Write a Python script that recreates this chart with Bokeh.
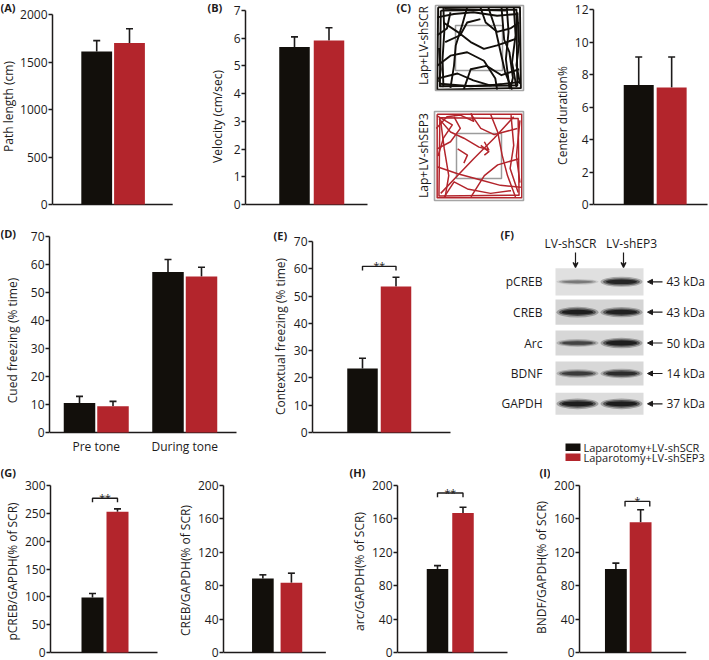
from math import pi
from bokeh.plotting import figure
from bokeh.layouts import row, column
from bokeh.models import (Range1d, FixedTicker, Label, Whisker, TeeHead, ColumnDataSource,
                          Arrow, VeeHead, NormalHead)
from bokeh.core.properties import value
from bokeh.embed import file_html
from bokeh.resources import INLINE

# ------------------------------------------------------------------ data
groups = ["Laparotomy+LV-shSCR", "Laparotomy+LV-shSEP3"]
path_length = [1610, 1700]
path_length_err = [115, 150]
velocity = [5.68, 5.92]
velocity_err = [0.37, 0.46]
center_duration = [7.35, 7.2]
center_duration_err = [1.73, 1.88]
cued_phases = ["Pre tone", "During tone"]
cued_scr = [10.5, 57.3]
cued_scr_err = [2.4, 4.5]
cued_sep3 = [9.4, 55.7]
cued_sep3_err = [1.7, 3.3]
contextual = [23.5, 53.5]
contextual_err = [3.7, 3.4]
pcreb = [99, 253]
pcreb_err = [7, 5]
creb = [88.5, 83.6]
creb_err = [4.5, 11.4]
arc = [100, 167]
arc_err = [4, 7]
bdnf = [100, 156]
bdnf_err = [7, 15]
# significance brackets: (label, bracket level, leg end)
sig_e = ("**", 60.9, 59.4)
sig_g = ("**", 277, 270)
sig_h = ("**", 191, 186)
sig_i = ("*", 181, 175)

blot_lanes = ["LV-shSCR", "LV-shEP3"]
blot_proteins = ["pCREB", "CREB", "Arc", "BDNF", "GAPDH"]
blot_kda = ["43 kDa", "43 kDa", "50 kDa", "14 kDa", "37 kDa"]
band_scr = [0.35, 0.95, 0.62, 0.68, 0.97]
band_sep3 = [0.88, 0.92, 0.95, 0.8, 0.97]

# open-field traces, normalised arena coordinates (u right, v down)
track_scr = [
    [(0.03, 0.02), (0.96, 0.02), (0.97, 0.97), (0.02, 0.99), (0.03, 0.02)],
    [(0.06, 0.06), (0.92, 0.05), (0.93, 0.94), (0.05, 0.95), (0.06, 0.06)],
    [(0.09, 0.03), (0.10, 0.31), (0.08, 0.63), (0.09, 0.96)],
    [(0.02, 0.14), (0.21, 0.10), (0.43, 0.08), (0.70, 0.12), (0.94, 0.10)],
    [(0.09, 0.20), (0.25, 0.31), (0.40, 0.43), (0.55, 0.51), (0.70, 0.47), (0.92, 0.39)],
    [(0.36, 0.02), (0.30, 0.24), (0.23, 0.47), (0.21, 0.71), (0.17, 0.97)],
    [(0.02, 0.71), (0.17, 0.59), (0.36, 0.55), (0.55, 0.65), (0.68, 0.86), (0.70, 0.99)],
    [(0.51, 0.02), (0.57, 0.20), (0.70, 0.31), (0.85, 0.27), (0.95, 0.20)],
    [(0.60, 0.02), (0.68, 0.27), (0.74, 0.55), (0.79, 0.78), (0.87, 0.99)],
    [(0.81, 0.02), (0.83, 0.31), (0.80, 0.63), (0.84, 0.97)],
    [(0.89, 0.02), (0.91, 0.35), (0.87, 0.67), (0.92, 0.96)],
    [(0.02, 0.86), (0.25, 0.80), (0.43, 0.88), (0.62, 0.94), (0.96, 0.90)],
    [(0.11, 0.43), (0.28, 0.35), (0.36, 0.20), (0.51, 0.16)],
    [(0.32, 0.99), (0.40, 0.75), (0.58, 0.71), (0.75, 0.82), (0.95, 0.75)],
    [(0.02, 0.35), (0.13, 0.27), (0.17, 0.08)],
    [(0.04, 0.50), (0.06, 0.75), (0.04, 0.90)],
    [(0.75, 0.02), (0.78, 0.40), (0.84, 0.55), (0.88, 0.85), (0.85, 0.98)],
    [(0.93, 0.08), (0.95, 0.45), (0.92, 0.70), (0.96, 0.92)],
    [(0.10, 0.04), (0.45, 0.05), (0.80, 0.06)],
    [(0.05, 0.92), (0.40, 0.95), (0.75, 0.93)],
]
track_sep3 = [
    [(0.03, 0.03), (0.98, 0.03), (0.98, 0.97), (0.03, 0.97), (0.03, 0.03)],
    [(0.06, 0.07), (0.94, 0.08), (0.95, 0.94), (0.05, 0.95), (0.06, 0.07)],
    [(0.02, 0.19), (0.14, 0.06), (0.29, 0.04), (0.44, 0.11), (0.41, 0.02)],
    [(0.05, 0.08), (0.18, 0.23), (0.33, 0.30), (0.50, 0.40), (0.61, 0.43), (0.56, 0.34)],
    [(0.07, 0.92), (0.26, 0.72), (0.44, 0.53), (0.67, 0.30), (0.89, 0.06)],
    [(0.03, 0.42), (0.18, 0.34), (0.29, 0.19), (0.22, 0.06)],
    [(0.63, 0.03), (0.71, 0.23), (0.76, 0.49), (0.82, 0.72), (0.91, 0.96)],
    [(0.86, 0.04), (0.89, 0.38), (0.85, 0.64), (0.94, 0.91)],
    [(0.03, 0.62), (0.26, 0.70), (0.52, 0.77), (0.74, 0.83), (0.97, 0.85)],
    [(0.11, 0.96), (0.22, 0.79), (0.37, 0.87), (0.63, 0.92), (0.86, 0.89)],
    [(0.41, 0.03), (0.52, 0.19), (0.67, 0.26), (0.93, 0.19)],
    [(0.07, 0.11), (0.11, 0.42), (0.16, 0.72), (0.12, 0.96)],
    [(0.41, 0.96), (0.56, 0.72), (0.71, 0.60), (0.95, 0.53)],
    [(0.26, 0.42), (0.37, 0.49), (0.33, 0.58)],
    [(0.52, 0.38), (0.61, 0.45), (0.56, 0.49)],
    [(0.03, 0.05), (0.20, 0.15), (0.10, 0.30), (0.04, 0.50)],
    [(0.96, 0.10), (0.92, 0.50), (0.96, 0.80)],
]

# ------------------------------------------------------------------ style
FONT = "Open Sans"
FS = "12px"
INK = "#1d1b1b"
BLACK = "#120f0b"
RED = "#b3252c"
COLORS = [BLACK, RED]


def bar_fig(box, frame, origin_px, unit_px, ymax, ystep):
    """Plot whose drawing area covers the whole canvas except the y-axis border."""
    bx0, by0, bx1, by1 = box
    fl, ft, fr, fb = frame
    ppu = (fb - ft) / ymax
    p = figure(width=bx1 - bx0, height=by1 - by0, title=None,
               x_range=Range1d((fl - origin_px) / unit_px, (bx1 - origin_px) / unit_px),
               y_range=Range1d(-(by1 - fb) / ppu, (fb - by0) / ppu),
               output_backend="svg", toolbar_location=None, x_axis_location=None,
               min_border_left=fl - bx0, min_border_right=0,
               min_border_top=0, min_border_bottom=0)
    p.outline_line_color = None
    p.xgrid.visible = False
    p.ygrid.visible = False
    ax = p.yaxis[0]
    ax.bounds = (0, ymax)
    ax.ticker = FixedTicker(ticks=list(range(0, ymax + 1, ystep)))
    ax.axis_line_color = INK
    ax.axis_line_width = 1.5
    ax.major_tick_line_color = INK
    ax.major_tick_line_width = 1.5
    ax.major_tick_out = 4
    ax.major_tick_in = 0
    ax.minor_tick_line_color = None
    ax.major_label_standoff = 1
    ax.major_label_text_font = FONT
    ax.major_label_text_font_size = FS
    ax.major_label_text_color = INK

    def fx(X):
        return (X - origin_px) / unit_px

    def fy(Y):
        return (fb - Y) / ppu
    # x baseline (category axis without ticks)
    p.segment(x0=[fx(fl)], y0=[0], x1=[fx(fr)], y1=[0], line_color=INK, line_width=1.5)
    return p, fx, fy


def pair(black_px, red_px):
    bc = (black_px[0] + black_px[1]) / 2
    rc = (red_px[0] + red_px[1]) / 2
    unit = rc - bc
    bw = ((black_px[1] - black_px[0]) + (red_px[1] - red_px[0])) / 2 / unit
    return bc, unit, bw


def add_bars(p, bw, xpos, tops, errs, colors):
    src = ColumnDataSource(dict(x=xpos, top=tops,
                                upper=[t + e for t, e in zip(tops, errs)],
                                color=colors))
    p.add_layout(Whisker(source=src, base="x", lower="top", upper="upper",
                         dimension="height", line_color=INK, line_width=1.6,
                         upper_head=TeeHead(size=7, line_color=INK, line_width=1.6),
                         lower_head=None))
    p.vbar(x="x", top="top", width=bw, fill_color="color", line_color=None, source=src)


def bracket(p, x0, x1, sig):
    txt, top, leg = sig
    p.line(x=[x0, x0, x1, x1], y=[leg, top, top, leg], line_color=INK, line_width=1.4)
    p.add_layout(Label(x=(x0 + x1) / 2, y=top, text=txt, text_align="center",
                       text_baseline="alphabetic", text_font=FONT,
                       text_font_size="10.5px", text_color=INK))


def plain_fig(box):
    bx0, by0, bx1, by1 = box
    p = figure(width=bx1 - bx0, height=by1 - by0, title=None,
               x_range=Range1d(bx0, bx1), y_range=Range1d(by1, by0),
               output_backend="svg", toolbar_location=None,
               x_axis_location=None, y_axis_location=None,
               min_border_left=0, min_border_right=0, min_border_top=0, min_border_bottom=0)
    p.outline_line_color = None
    p.xgrid.visible = False
    p.ygrid.visible = False
    return p


def put_letter(p, letter, xy):
    p.text(x=[xy[0]], y=[xy[1]], text=[letter], text_font=value(FONT),
           text_font_size=value("11px"), text_font_style="bold", text_color=INK,
           text_align="left", text_baseline="middle")


def strip(box, label, label_xy, letter=None, letter_xy=None):
    p = plain_fig(box)
    p.text(x=[label_xy[0]], y=[label_xy[1]], text=[label], angle=pi / 2,
           text_font=value(FONT), text_font_size=value(FS), text_color=INK,
           text_align="center", text_baseline="middle")
    if letter:
        put_letter(p, letter, letter_xy)
    return p

idx = [0, 1]
R1, R2, R3, R4 = 0, 218, 465, 660     # row boundaries (px)
T3, B3 = 485, 652                     # top / bottom of the row-3 value axes (px)

# ------------------------------------------------------------------ row 1
sA = strip((0, R1, 17, R2), "Path length (cm)", (8, 106), "(A)", (0, 7))
o, u, bw = pair((80, 111), (113, 144))
pA, fx, fy = bar_fig((17, R1, 205, R2), (51, 14, 172, 204), o, u, 2000, 500)
add_bars(pA, bw, idx, path_length, path_length_err, COLORS)

sB = strip((205, R1, 226, R2), "Velocity (cm/sec)", (217, 116), "(B)", (207, 7))
o, u, bw = pair((279, 309), (313, 344))
pB, fx, fy = bar_fig((226, R1, 395, R2), (245, 10, 367, 204), o, u, 7, 1)
add_bars(pB, bw, idx, velocity, velocity_err, COLORS)

pCt = plain_fig((395, R1, 540, R2))
put_letter(pCt, "(C)", (396, 7))
arenas = [((435, 5, 523, 90), (455, 25, 502, 70), track_scr, BLACK, 1.9, "Lap+LV-shSCR", 45),
          ((434, 111, 523, 200), (456, 133, 501, 178), track_sep3, RED, 1.5, "Lap+LV-shSEP3", 155)]
for outer, inner, track, col, lw, lab, ly in arenas:
    ox0, oy0, ox1, oy1 = outer
    ix0, iy0, ix1, iy1 = inner
    xs_ = [[ox0 + uu * (ox1 - ox0) for uu, vv in seg] for seg in track]
    ys_ = [[oy0 + vv * (oy1 - oy0) for uu, vv in seg] for seg in track]
    pCt.quad(left=[ix0], right=[ix1], top=[iy0], bottom=[iy1], fill_color=None,
             line_color="#9c9c9c", line_width=1.5)
    pCt.multi_line(xs=xs_, ys=ys_, line_color=col, line_width=lw, line_join="round")
    pCt.quad(left=[ox0], right=[ox1], top=[oy0], bottom=[oy1], fill_color=None,
             line_color="#a5a5a5", line_width=1.6)
    pCt.text(x=[422.5], y=[ly], text=[lab], angle=pi / 2, text_font=value(FONT),
             text_font_size=value(FS), text_color=INK, text_align="center",
             text_baseline="middle")

sC = strip((540, R1, 571, R2), "Center duration%", (562, 115))
o, u, bw = pair((622, 652), (655, 686))
pC, fx, fy = bar_fig((571, R1, 709, R2), (591, 9, 707, 204), o, u, 12, 2)
add_bars(pC, bw, idx, center_duration, center_duration_err, COLORS)

# ------------------------------------------------------------------ row 2
sD = strip((0, R2, 21, R3), "Cued freezing (% time)", (12, 340), "(D)", (0, 233))
group_center = 95.75        # px of the "Pre tone" group centre
group_step = 88.5           # px between the two phase groups
half = 16.75 / group_step   # half distance between paired bars, in group units
pD, fx, fy = bar_fig((21, R2, 250, R3), (49, 236, 236, 432), group_center, group_step, 70, 10)
bwD = 31.5 / group_step
add_bars(pD, bwD, [g - half for g in idx], cued_scr, cued_scr_err, [BLACK, BLACK])
add_bars(pD, bwD, [g + half for g in idx], cued_sep3, cued_sep3_err, [RED, RED])
pD.text(x=idx, y=[fy(446)] * 2, text=cued_phases, text_font=value(FONT),
        text_font_size=value(FS), text_color=INK, text_align="center", text_baseline="middle")

sE = strip((250, R2, 290, R3), "Contextual freezing (% time)", (280, 336), "(E)", (273, 235))
o, u, bw = pair((347, 377), (380, 411))
pE, fx, fy = bar_fig((290, R2, 460, R3), (312, 241, 450, 432), o, u, 70, 10)
add_bars(pE, bw, idx, contextual, contextual_err, COLORS)
bracket(pE, 0, 1, sig_e)

pF = plain_fig((460, R2, 709, R3))
put_letter(pF, "(F)", (500, 234))
pF.text(x=[570, 631], y=[243, 243], text=blot_lanes, text_font=value(FONT),
        text_font_size=value(FS), text_color=INK, text_align="center", text_baseline="middle")
for lx in [575, 623]:
    pF.add_layout(Arrow(x_start=lx, y_start=252, x_end=lx, y_end=267, line_color=INK,
                        line_width=1.2, end=VeeHead(size=5, line_color=INK, line_width=1.2)))
box_top = [267.7, 299, 330, 361, 392.3]
box_bot = [295, 324.3, 355, 385, 414.3]
centers = [(a + b) / 2 for a, b in zip(box_top, box_bot)]
pF.quad(left=[555] * 5, right=[643] * 5, top=box_top, bottom=box_bot,
        fill_color=["#e0e0e0", "#d4d4d4", "#d7d7d7", "#d8d8d8", "#dcdcdc"], line_color=None)
lane_x = [577, 621]
for lx, dens in zip(lane_x, [band_scr, band_sep3]):
    for wf, hf, af in [(1.05, 1.0, 0.30), (0.92, 0.72, 0.55), (0.78, 0.45, 0.85)]:
        pF.ellipse(x=[lx] * 5, y=centers, width=[40 * wf] * 5,
                   height=[(3 + 8 * d) * hf for d in dens],
                   fill_color="#111111", fill_alpha=[af * d for d in dens], line_color=None)
pF.text(x=[542] * 5, y=centers, text=blot_proteins, text_font=value(FONT),
        text_font_size=value(FS), text_color=INK, text_align="right", text_baseline="middle")
for cy in centers:
    pF.add_layout(Arrow(x_start=662, y_start=cy, x_end=647, y_end=cy, line_color=INK,
                        line_width=1.2, end=NormalHead(size=5, fill_color=INK, line_color=INK)))
pF.text(x=[666] * 5, y=centers, text=blot_kda, text_font=value(FONT),
        text_font_size=value(FS), text_color=INK, text_align="left", text_baseline="middle")
pF.quad(left=[565, 565], right=[580, 580], top=[443, 453], bottom=[450.5, 460.5],
        fill_color=COLORS, line_color=None)
pF.text(x=[583, 583], y=[446.5, 456.8], text=groups, text_font=value(FONT),
        text_font_size=value("11px"), text_color=INK, text_align="left", text_baseline="middle")

# ------------------------------------------------------------------ row 3
sG1 = strip((0, R3, 21, R4), "pCREB/GAPDH(% of SCR)", (12, 571), "(G)", (0, 472))
o, u, bw = pair((81, 103), (106, 128))
pG1, fx, fy = bar_fig((21, R3, 165, R4), (50, T3, 157, B3), o, u, 300, 50)
add_bars(pG1, bw, idx, pcreb, pcreb_err, COLORS)
bracket(pG1, 0, 1, sig_g)

sG2 = strip((165, R3, 194, R4), "CREB/GAPDH(% of SCR)", (185, 570))
o, u, bw = pair((250, 272), (279, 301))
pG2, fx, fy = bar_fig((194, R3, 348, R4), (221, T3, 325, B3), o, u, 200, 40)
add_bars(pG2, bw, idx, creb, creb_err, COLORS)

sH = strip((348, R3, 368, R4), "arc/GAPDH(% of SCR)", (359, 571), "(H)", (349, 472))
o, u, bw = pair((426, 448), (452, 473))
pH, fx, fy = bar_fig((368, R3, 530, R4), (397, T3, 507, B3), o, u, 200, 40)
add_bars(pH, bw, idx, arc, arc_err, COLORS)
bracket(pH, 0, 1, sig_h)

sI = strip((530, R3, 550, R4), "BNDF/GAPDH(% of SCR)", (541, 567), "(I)", (539, 472))
o, u, bw = pair((601, 624), (627, 649))
pI, fx, fy = bar_fig((550, R3, 709, R4), (575, T3, 685, B3), o, u, 200, 40)
add_bars(pI, bw, idx, bdnf, bdnf_err, COLORS)
bracket(pI, 0.37, 1.37, sig_i)

layout = column(
    row(sA, pA, sB, pB, pCt, sC, pC),
    row(sD, pD, sE, pE, pF),
    row(sG1, pG1, sG2, pG2, sH, pH, sI, pI),
)
open("out.html", "w").write(file_html(layout, INLINE))
